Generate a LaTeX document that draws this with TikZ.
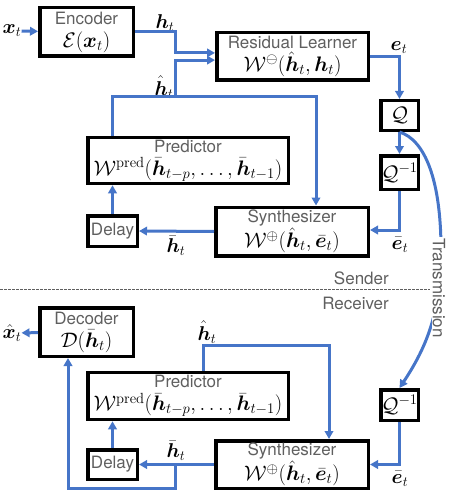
\documentclass[tikz,border=0pt]{standalone}
\usepackage{fix-cm}
\usepackage{amsmath,bm}
\usepackage{fontspec}
\setsansfont{TeX Gyre Heros}
\usetikzlibrary{arrows.meta}
\definecolor{wireblue}{RGB}{70,117,200}
\definecolor{ttlgray}{RGB}{95,95,95}
\newcommand{\ttl}[1]{{\sffamily\color{ttlgray}#1}}
\newcommand{\mth}[1]{{\fontsize{21}{23}\selectfont$#1$}}
\begin{document}
\begin{tikzpicture}[x=1pt, y=-1pt, >={Triangle[length=8pt, width=8.5pt]},
        blk/.style 2 args={draw, line width=3.5pt, align=center, inner sep=0pt,
            minimum width=#1, minimum height=#2, font=\fontsize{17}{23}\selectfont},
        wire/.style={draw=wireblue, line width=3pt},
        lbl/.style={inner sep=0pt, font=\fontsize{20}{22}\selectfont}]
        \useasboundingbox (0, 0) rectangle (457, 492);

        % sender
        \path (86.5, 32)   node[blk={93.5}{48.5}]  (enc)  {\ttl{Encoder}\\ \mth{\mathcal{E}(\bm{x}_t)}};
        \path (292.5, 56.5) node[blk={151.5}{47.5}] (res)  {\ttl{Residual Learner}\\ \mth{\mathcal{W}^{\ominus}(\hat{\bm{h}}_t, \bm{h}_t)}};
        \path (399.5, 115.5) node[blk={37.5}{29.5}] (q)    {\mth{\mathcal{Q}}};
        \path (399.5, 172.5) node[blk={37.5}{33.5}] (qi)   {\mth{\mathcal{Q}^{-1}}};
        \path (188, 160.5) node[blk={200.5}{46}]    (pred) {\ttl{Predictor}\\ \mth{\mathcal{W}^{\mathrm{pred}}(\bar{\bm{h}}_{t-p}, \ldots, \bar{\bm{h}}_{t-1})}};
        \path (292, 231.5) node[blk={152.5}{48.5}]  (syn)  {\ttl{Synthesizer}\\ \mth{\mathcal{W}^{\oplus}(\hat{\bm{h}}_t, \bar{\bm{e}}_t)}};
        \path (112.5, 231) node[blk={49.5}{30.5}]   (del)  {\ttl{Delay}};

        \path (12, 31)    node[lbl] (xin)     {$\bm{x}_t$};
        \path (165, 23)   node[lbl] (hlab)    {$\bm{h}_t$};
        \path (164, 87)   node[lbl] (hhatlab) {$\hat{\bm{h}}_t$};
        \path (399, 48)   node[lbl] (elab)    {$\bm{e}_t$};
        \path (400, 245)  node[lbl] (ebarlab) {$\bar{\bm{e}}_t$};
        \path (176, 246)  node[lbl] (hbarlab) {$\bar{\bm{h}}_t$};

        \coordinate (hhat) at (175, 97);

        \draw[wire, ->] (xin) -- (enc);
        \draw[wire, ->] (enc.east) -| ([yshift=3.6pt]res.west -| hhat) -- ([yshift=3.6pt]res.west);
        \draw[wire, ->] (hhat) |- ([yshift=-3.6pt]res.west);
        \draw[wire] (pred.north -| del.north) |- (hhat);
        \draw[wire, ->] (hhat) -| ([xshift=24pt]syn.north);
        \draw[wire, ->] (res.east) -| (q.north);
        \draw[wire, ->] (q) -- (qi);
        \draw[wire, ->] (qi.south) |- ([yshift=1.5pt]syn.east);
        \draw[wire, ->] (syn.west) -- (del.east);
        \draw[wire, ->] (del.north) -- (del.north |- pred.south);

        % separator
        \coordinate (sepL) at (0, 289);
        \coordinate (sepR) at (430, 289);
        \draw[ttlgray, line width=0.7pt, dash pattern=on 2.5pt off 1.5pt] (sepL) -- (sepR);
        \path (389, 278) node[anchor=east, inner sep=0pt, font=\fontsize{17}{20}\selectfont] (send) {\ttl{Sender}};
        \path (389, 303) node[anchor=east, inner sep=0pt, font=\fontsize{17}{20}\selectfont] (recv) {\ttl{Receiver}};

        % receiver
        \path (86.5, 332)  node[blk={93.5}{48.5}]   (dec)   {\ttl{Decoder}\\ \mth{\mathcal{D}(\bar{\bm{h}}_t)}};
        \path (188, 396)   node[blk={200.5}{47}]    (pred2) {\ttl{Predictor}\\ \mth{\mathcal{W}^{\mathrm{pred}}(\bar{\bm{h}}_{t-p}, \ldots, \bar{\bm{h}}_{t-1})}};
        \path (399.5, 405) node[blk={37.5}{30.5}]   (qi2)   {\mth{\mathcal{Q}^{-1}}};
        \path (292, 464.5) node[blk={152.5}{47.5}]  (syn2)  {\ttl{Synthesizer}\\ \mth{\mathcal{W}^{\oplus}(\hat{\bm{h}}_t, \bar{\bm{e}}_t)}};
        \path (112.5, 464.5) node[blk={49.5}{29.5}] (del2)  {\ttl{Delay}};

        \path (12, 333)   node[lbl] (xout)     {$\hat{\bm{x}}_t$};
        \path (207, 332)  node[lbl] (hhatlab2) {$\hat{\bm{h}}_t$};
        \path (176, 451)  node[lbl] (hbarlab2) {$\bar{\bm{h}}_t$};
        \path (400, 479)  node[lbl] (ebarlab2) {$\bar{\bm{e}}_t$};

        \coordinate (hhat2) at (329, 345);
        \coordinate (hbarjoin) at (175, 464.5);

        \draw[wire, ->] (dec) -- (xout);
        \draw[wire, ->] ([xshift=15pt]pred2.north) |- (hhat2) -- ([xshift=37pt]syn2.north);
        \draw[wire, ->] (qi2.south) |- (syn2.east);
        \draw[wire, ->] (syn2.west) -- (del2.east);
        \draw[wire, ->] (hbarjoin) -- (175, 488) -| ([xshift=-18.5pt]dec.south);
        \draw[wire, ->] (del2.north) -- (del2.north |- pred2.south);

        % transmission
        \draw[wire, ->] (q.south) .. controls (425, 140) and (441, 180) .. (441, 250)
            .. controls (441, 310) and (428, 345) .. (qi2.north);
        \path (439, 288) node[rotate=-90, fill=white, inner sep=1pt, font=\fontsize{17}{20}\selectfont] (trans) {\ttl{Transmission}};
    \end{tikzpicture}
\end{document}
